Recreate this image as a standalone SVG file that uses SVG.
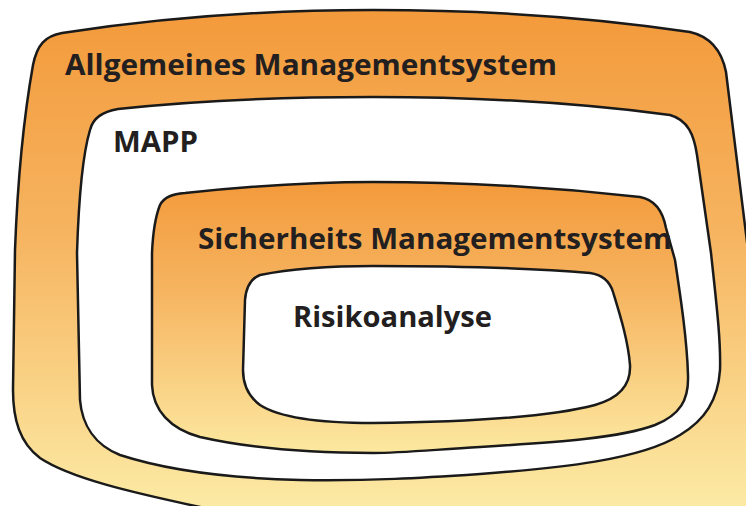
<svg xmlns="http://www.w3.org/2000/svg" width="746" height="506" viewBox="0 0 746 506">
  <defs>
    <linearGradient id="gOuter" gradientUnits="userSpaceOnUse" x1="0" y1="10" x2="0" y2="506">
      <stop offset="0" stop-color="#F39A3B"/>
      <stop offset="0.45" stop-color="#F6B460"/>
      <stop offset="1" stop-color="#FCEAA4"/>
    </linearGradient>
    <linearGradient id="gInner" gradientUnits="userSpaceOnUse" x1="0" y1="182" x2="0" y2="453">
      <stop offset="0" stop-color="#F39A3B"/>
      <stop offset="0.4" stop-color="#F6B460"/>
      <stop offset="1" stop-color="#FCE8A0"/>
    </linearGradient>
    <style>
      .shape { stroke: #1a1a1a; stroke-width: 2.5; stroke-linejoin: round; }
      .lbl { font-family: "Open Sans", "Noto Sans", "Liberation Sans", sans-serif; font-weight: bold; font-size: 28px; fill: #231F20; }
    </style>
  </defs>

  <g id="allgemeines-managementsystem">
    <path class="shape" fill="url(#gOuter)" d="M 13,390 L 15,250 C 18,170 25,110 33,65 C 37,45 45,36 62,33 C 160,18 270,10 373,10 C 500,10 610,20 690,32 C 712,37 722,52 726,72 L 748,250 C 756,330 768,420 768,500 C 768,545 700,550 500,545 C 350,540 260,522 200,507 C 130,492 70,478 40,458 C 20,443 13,420 13,390 Z"/>
    <text class="lbl" x="65" y="75" textLength="492" lengthAdjust="spacingAndGlyphs">Allgemeines Managementsystem</text>
  </g>

  <g id="mapp">
    <path class="shape" fill="#ffffff" d="M 80,400 L 77,253 C 79,190 84,150 90,130 C 93,118 102,112 118,109 C 200,100 290,97 373,97 C 480,97 580,103 670,115 C 688,120 694,135 697,155 L 711,253 C 716,300 721,340 720,370 C 718,400 705,420 680,435 C 640,460 560,468 480,474 C 420,478 373,481 300,480 C 220,478 160,468 120,455 C 95,445 82,425 80,400 Z"/>
    <text class="lbl" x="113" y="152" textLength="85" lengthAdjust="spacingAndGlyphs">MAPP</text>
  </g>

  <g id="sicherheits-managementsystem">
    <path class="shape" fill="url(#gInner)" d="M 152,385 L 152,253 C 153,230 156,215 160,205 C 164,197 172,194 185,193 C 250,186 310,182 373,182 C 460,182 560,188 640,197 C 656,200 663,212 666,228 L 675,260 C 681,300 687,340 688,375 C 689,400 680,415 655,425 C 620,438 560,442 480,447 C 430,450 400,453 373,453 C 300,453 240,446 200,437 C 170,429 153,410 152,385 Z"/>
    <text class="lbl" x="198" y="249" textLength="474" lengthAdjust="spacingAndGlyphs">Sicherheits Managementsystem</text>
  </g>

  <g id="risikoanalyse">
    <path class="shape" fill="#ffffff" d="M 243,370 L 245,300 C 246,288 250,279 260,275 C 290,269 330,266 373,266 C 450,266 530,268 590,273 C 604,275 610,282 613,292 C 620,315 628,340 630,365 C 631,385 620,398 595,405 C 550,417 460,422 373,423 C 320,423 280,418 260,405 C 248,396 243,385 243,370 Z"/>
    <text class="lbl" x="293" y="327" textLength="199" lengthAdjust="spacingAndGlyphs">Risikoanalyse</text>
  </g>

  <g id="connectors"></g>
</svg>
